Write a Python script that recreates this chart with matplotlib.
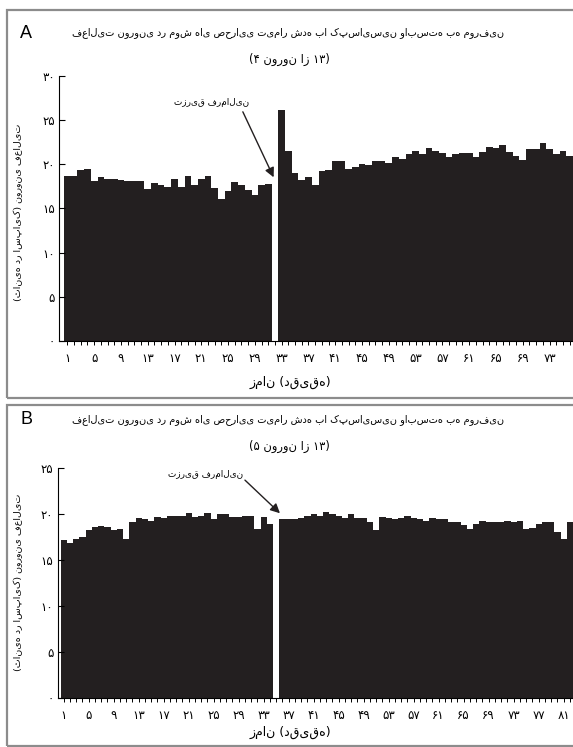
import matplotlib
matplotlib.use("Agg")
import matplotlib.pyplot as plt
from matplotlib.patches import Rectangle

plt.rcParams['font.family'] = ['DejaVu Sans']

# firing rate (spikes/s) per minute, panel A (4 of 13 neurons)
a_rate = [18.6, 18.7, 19.3, 19.4, 18.1, 18.5, 18.3, 18.3, 18.2, 18.1,
          18.1, 18.1, 17.2, 17.9, 17.6, 17.4, 18.3, 17.4, 18.6, 17.6,
          18.3, 18.7, 17.3, 16.1, 16.9, 18.0, 17.6, 17.1, 16.5, 17.6,
          17.7, 0.0, 26.1, 21.5, 19.0, 18.2, 18.5, 17.6, 19.2, 19.3,
          20.3, 20.3, 19.4, 19.7, 20.0, 19.9, 20.3, 20.3, 20.1, 20.8,
          20.6, 21.1, 21.5, 21.1, 21.8, 21.5, 21.2, 20.8, 21.1, 21.2,
          21.2, 20.8, 21.4, 21.9, 21.8, 22.2, 21.4, 20.9, 20.4, 21.7,
          21.7, 22.4, 21.7, 21.1, 21.5, 20.9]

# panel B (5 of 13 neurons)
b_rate = [17.2, 16.9, 17.3, 17.5, 18.3, 18.6, 18.7, 18.6, 18.3, 18.4,
          17.3, 19.2, 19.6, 19.5, 19.3, 19.7, 19.6, 19.8, 19.8, 19.8,
          20.1, 19.7, 19.8, 20.1, 19.5, 20.0, 20.0, 19.7, 19.7, 19.8,
          19.8, 18.4, 19.7, 18.9, 0.0, 19.5, 19.5, 19.5, 19.6, 19.8,
          20.0, 19.8, 20.2, 20.0, 19.8, 19.6, 20.0, 19.6, 19.6, 19.2,
          18.3, 19.7, 19.6, 19.5, 19.6, 19.8, 19.6, 19.5, 19.3, 19.6,
          19.5, 19.5, 19.2, 19.1, 18.8, 18.4, 18.9, 19.3, 19.1, 19.1,
          19.1, 19.3, 19.1, 19.3, 18.4, 18.5, 18.9, 19.2, 19.1, 18.1,
          17.3, 19.1]

a_xticks = [1, 5, 9, 13, 17, 21, 25, 29, 33, 37, 41, 45, 49, 53, 57, 61, 65, 69, 73]
b_xticks = [1, 5, 9, 13, 17, 21, 25, 29, 33, 37, 41, 45, 49, 53, 57, 61, 65, 69, 73, 77, 81]
a_yticks = [0, 5, 10, 15, 20, 25, 30]
b_yticks = [0, 5, 10, 15, 20, 25]

title = "فعالیت نورونی در موش های صحرایی تیمار شده با کپسایسین وابسته به مورفین"
subtitle_a = "(۴ نورون از ۱۳)"
subtitle_b = "(۵ نورون از ۱۳)"
xlabel = "زمان (دقیقه)"
# words given in right-to-left order so the rotated label reads like the original
ylabel = "(ثانیه در اسپایک) نورونی فعالیت"
inject = "تزریق فرمالین"


def fa(num):
    return str(num).translate(str.maketrans('0123456789', '۰۱۲۳۴۵۶۷۸۹'))


W, H = 573, 747
fig = plt.figure(figsize=(W / 100, H / 100), dpi=100)
BAR = '#231f20'


def fx(x):
    return x / W


def fy(y):
    return 1 - y / H


# panel frames
for y0, y1 in [(10, 398), (405, 746)]:
    fig.patches.append(Rectangle((fx(7), fy(y1)), fx(580) - fx(7), fy(y0) - fy(y1),
                                 transform=fig.transFigure, fill=False,
                                 edgecolor='#8c8c8c', lw=1.6))


def panel(rect, rate, xticks, yticks, xmin, subtitle, letter, top_y, lab_y, xl_y, arrow, txt):
    ax = fig.add_axes(rect)
    xs = list(range(1, len(rate) + 1))
    ax.bar(xs, rate, width=1.0, color=BAR, linewidth=0)
    ax.set_xlim(xmin, len(rate) + 0.5)
    ax.set_ylim(0, yticks[-1])
    for s in ['top', 'right']:
        ax.spines[s].set_visible(False)
    ax.spines['left'].set_linewidth(0.8)
    ax.spines['bottom'].set_linewidth(0.8)
    ax.set_yticks(yticks)
    ax.set_yticklabels([fa(v) for v in yticks], fontsize=8.5)
    ax.tick_params(axis='y', direction='in', length=4, width=0.8, pad=3)
    ax.set_xticks(xs, minor=True)
    ax.set_xticks(xticks)
    ax.set_xticklabels([fa(v) for v in xticks], fontsize=8.5)
    ax.tick_params(axis='x', which='both', direction='out', length=3, width=0.7, pad=5)
    fig.text(fx(26), fy(top_y), letter, fontsize=13, family='Liberation Sans',
             ha='center', va='center')
    fig.text(fx(288), fy(top_y), title, fontsize=7.0, ha='center', va='center')
    fig.text(fx(289), fy(top_y + 26), subtitle, fontsize=8.3, ha='center', va='center')
    fig.text(fx(290), fy(xl_y), xlabel, fontsize=9.0, ha='center', va='center')
    fig.text(fx(18), fy(lab_y), ylabel, fontsize=6.8, rotation=90,
             ha='center', va='center')
    (tx, ty), (ax0, ay0), (ax1, ay1) = txt, arrow[0], arrow[1]
    ax.text(tx, ty, inject, fontsize=6.4, ha='center', va='center')
    ax.annotate('', xy=(ax1, ay1), xytext=(ax0, ay0),
                arrowprops=dict(arrowstyle='-|>', color=BAR, lw=1.0,
                                mutation_scale=14, shrinkA=0, shrinkB=0))
    return ax


panel([59 / W, 0.5435, 1 - 59 / W, 0.3554], a_rate, a_xticks, a_yticks, -0.25, subtitle_a, 'A',
      33, 212, 382, ((27.2, 25.9), (31.8, 18.5)), (22.6, 27.0))
panel([57.5 / W, 0.0652, 1 - 57.5 / W, 0.3081], b_rate, b_xticks, b_yticks, 0.0, subtitle_b, 'B',
      420, 582, 732, ((30.0, 23.7), (35.6, 20.1)), (23.7, 24.3))

fig.savefig('out.png', dpi=100)
